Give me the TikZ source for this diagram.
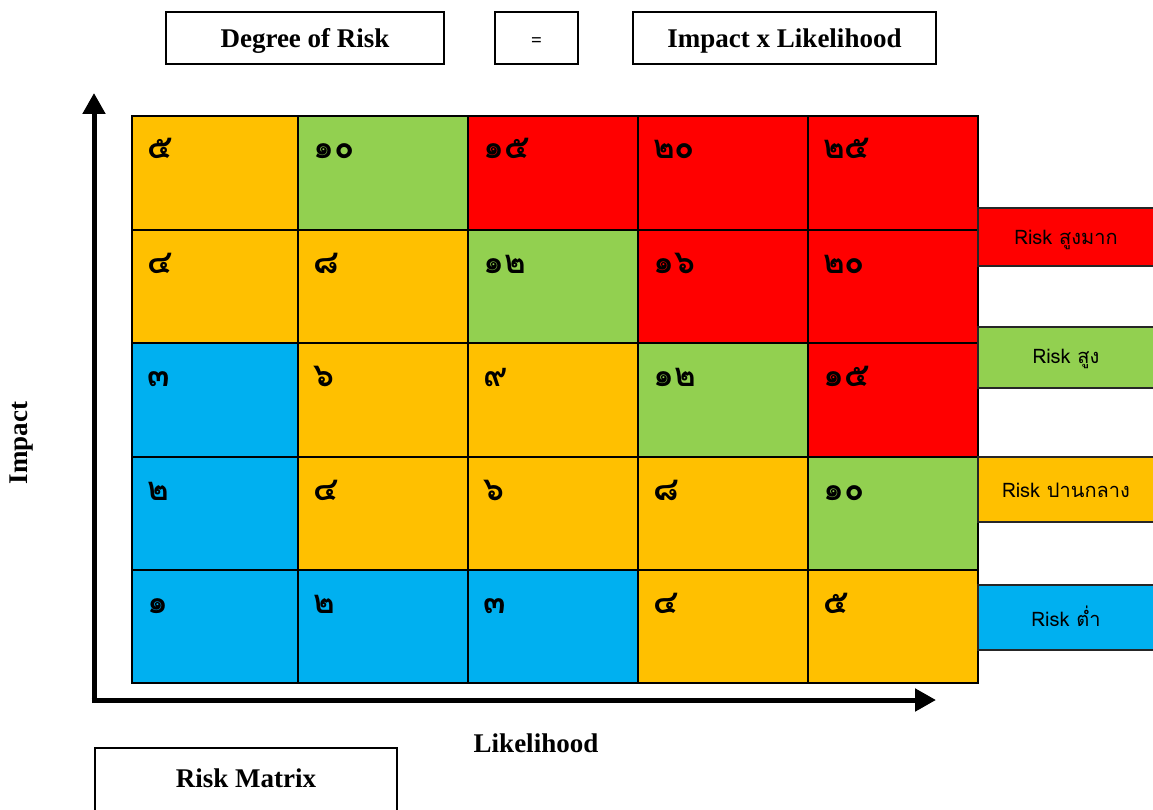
\documentclass[tikz,border=0pt]{standalone}
\usepackage{fontspec}
\setmainfont{Liberation Serif}
\newfontfamily\thai[Script=Thai]{Loma}
\usetikzlibrary{arrows.meta}
\definecolor{rOr}{HTML}{FFC000}
\definecolor{rGr}{HTML}{92D050}
\definecolor{rRd}{HTML}{FF0000}
\definecolor{rBl}{HTML}{00B0F0}
\tikzset{
  hdrtext/.style={inner sep=0pt, font=\bfseries\fontsize{27}{27}\selectfont},
  hdrbox/.style={draw=black, line width=1.5pt, minimum height=52pt},
  num/.style={anchor=base west, inner sep=0pt, font=\thai\bfseries\fontsize{33}{33}\selectfont},
  legbox/.style={draw=black!85, line width=2pt},
  legtext/.style={font=\thai\fontsize{20}{20}\selectfont, inner sep=0pt},
  axis/.style={line width=5pt, -{Triangle[length=21pt,width=22pt]}},
  axlabel/.style={font=\bfseries\fontsize{27}{27}\selectfont, inner sep=0pt},
  gridline/.style={line width=2pt, draw=black}
}
\begin{document}
\begin{tikzpicture}[x=1pt,y=-1pt]
\useasboundingbox (0,0) rectangle (1153,810);
\fill[white] (0,0) rectangle (1153,810);
% header
\node[hdrbox, minimum width=278pt] (deg) at (305,38) {};
\node[hdrtext] (degt) at (305,41) {Degree of Risk};
\node[hdrbox, minimum width=83pt] (eq) at (536.5,38) {};
\node[hdrtext, font=\bfseries\fontsize{19}{19}\selectfont] (eqt) at (536.5,42) {=};
\node[hdrbox, minimum width=303pt] (ixl) at (784.5,38) {};
\node[hdrtext] (ixlt) at (784.5,41) {Impact x Likelihood};
% grid cells
\foreach \xa/\xb/\c/\t in {132/298/rOr/๕, 298/468/rGr/๑๐, 468/638/rRd/๑๕, 638/808/rRd/๒๐, 808/978/rRd/๒๕}{
  \fill[\c] (\xa,116) rectangle (\xb,230);
  \node[num] (n1-\xa) at (\xa+15,159) {\t};}
\foreach \xa/\xb/\c/\t in {132/298/rOr/๔, 298/468/rOr/๘, 468/638/rGr/๑๒, 638/808/rRd/๑๖, 808/978/rRd/๒๐}{
  \fill[\c] (\xa,230) rectangle (\xb,343);
  \node[num] (n2-\xa) at (\xa+15,273) {\t};}
\foreach \xa/\xb/\c/\t in {132/298/rBl/๓, 298/468/rOr/๖, 468/638/rOr/๙, 638/808/rGr/๑๒, 808/978/rRd/๑๕}{
  \fill[\c] (\xa,343) rectangle (\xb,457);
  \node[num] (n3-\xa) at (\xa+15,386) {\t};}
\foreach \xa/\xb/\c/\t in {132/298/rBl/๒, 298/468/rOr/๔, 468/638/rOr/๖, 638/808/rOr/๘, 808/978/rGr/๑๐}{
  \fill[\c] (\xa,457) rectangle (\xb,570);
  \node[num] (n4-\xa) at (\xa+15,500) {\t};}
\foreach \xa/\xb/\c/\t in {132/298/rBl/๑, 298/468/rBl/๒, 468/638/rBl/๓, 638/808/rOr/๔, 808/978/rOr/๕}{
  \fill[\c] (\xa,570) rectangle (\xb,683);
  \node[num] (n5-\xa) at (\xa+15,613) {\t};}
% grid lines
\foreach \x in {298,468,638,808}{\draw[gridline] (\x,116) -- (\x,683);}
\foreach \y in {230,343,457,570}{\draw[gridline] (132,\y) -- (978,\y);}
\draw[line width=2.5pt] (132,116) rectangle (978,683);
% legend
\fill[rRd] (978,208) rectangle (1160,266); \draw[legbox] (978,208) rectangle (1160,266);
\node[legtext] (l1) at (1066,240) {Risk สูงมาก};
\fill[rGr] (978,327) rectangle (1160,388); \draw[legbox] (978,327) rectangle (1160,388);
\node[legtext] (l2) at (1066,359) {Risk สูง};
\fill[rOr] (978,457) rectangle (1160,522); \draw[legbox] (978,457) rectangle (1160,522);
\node[legtext] (l3) at (1066,490) {Risk ปานกลาง};
\fill[rBl] (978,585) rectangle (1160,650); \draw[legbox] (978,585) rectangle (1160,650);
\node[legtext] (l4) at (1066,616) {Risk ต่ำ};
% axes
\coordinate (ov) at (94,703);
\coordinate (oh) at (91.5,700);
\coordinate (ytip) at (94,93);
\coordinate (xtip) at (936,700);
\draw[axis] (ov) -- (ytip);
\draw[axis] (oh) -- (xtip);
\node[axlabel, rotate=90] (impact) at (22,443) {Impact};
\node[axlabel] (likel) at (536,743) {Likelihood};
% risk matrix box
\draw[line width=1.5pt] (95,748) rectangle (397,815);
\node[axlabel] (rm) at (246,778) {Risk Matrix};
\end{tikzpicture}
\end{document}
